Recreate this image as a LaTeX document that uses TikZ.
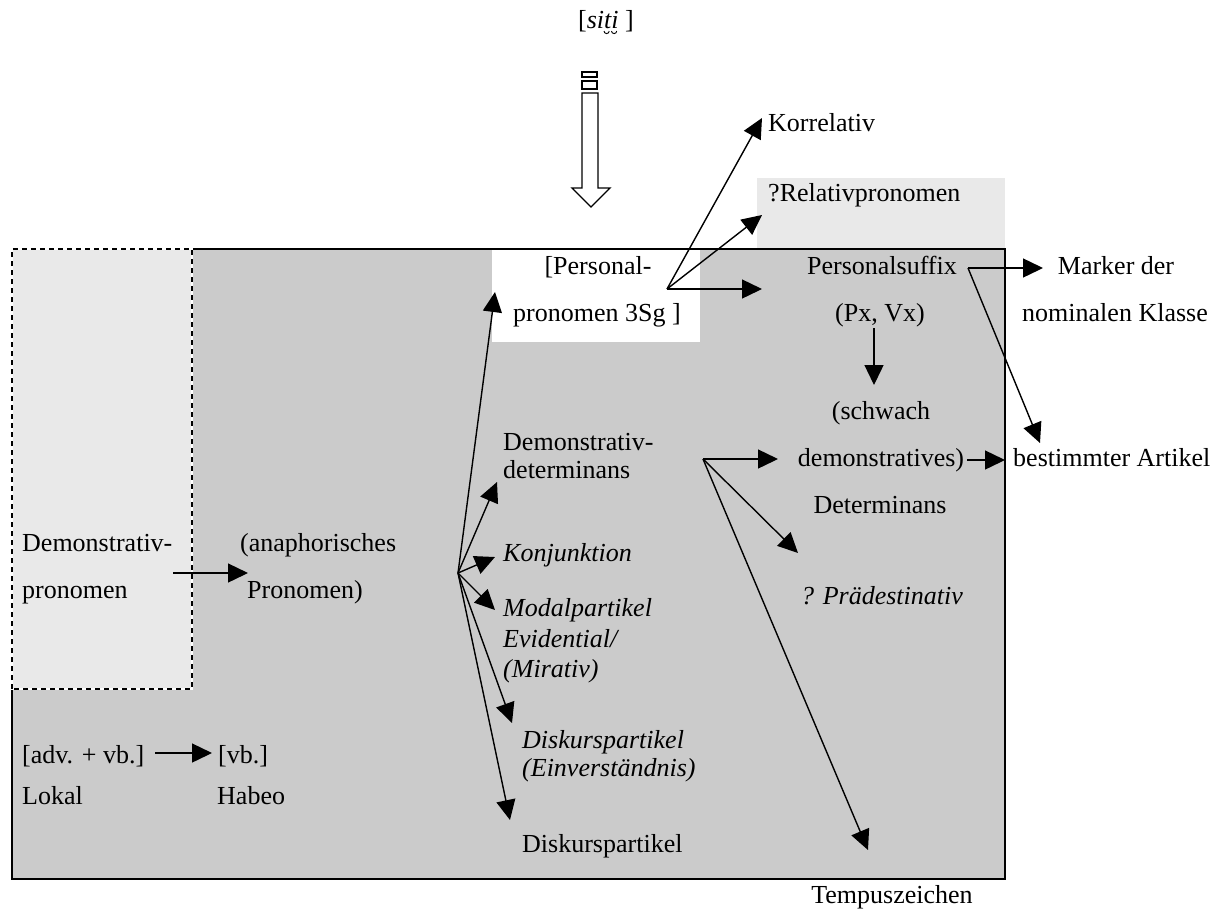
\documentclass[tikz,border=0pt]{standalone}
\usepackage{fontspec}
\setmainfont{Liberation Serif}
\usetikzlibrary{arrows.meta}
\definecolor{darkbg}{HTML}{CBCBCB}
\definecolor{lightbg}{HTML}{E9E9E9}
\begin{document}
\begin{tikzpicture}[x=1pt,y=-1pt,
  txt/.style={inner sep=0pt, font=\fontsize{26}{30}\selectfont, text height=17pt, text depth=5pt},
  itxt/.style={txt, font=\fontsize{26}{30}\selectfont\itshape},
  arr/.style={-{Triangle[length=20pt,width=19pt]}, line width=1.4pt},
  frame/.style={line width=1.8pt},
  dsh/.style={line width=1.5pt, dash pattern=on 5pt off 4pt}]
\useasboundingbox (0,0) rectangle (1228,911);
% backgrounds
\fill[darkbg] (12,249) rectangle (1005,879);
\fill[lightbg] (12,249) rectangle (192,689);
\fill[white] (492,249) rectangle (700,342);
\fill[lightbg] (757,178) rectangle (1005,249);
% frame
\draw[frame] (192,249) -- (1005,249) -- (1005,879) -- (12,879) -- (12,689);
\draw[white, line width=1.5pt] (12,689) -- (12,249) -- (192,249) -- (192,689) -- cycle;
\draw[dsh] (12,689) -- (12,249) -- (192,249) -- (192,689) -- cycle;
% hollow arrow
\draw[line width=1.3pt, fill=white] (582,93) -- (598,93) -- (598,188) -- (610,188) -- (591,207) -- (572,188) -- (582,188) -- cycle;
\draw[line width=1.3pt] (582,72) rectangle (597,77);
\draw[line width=1.3pt] (582,81) rectangle (597,89);
% texts
\node[txt, anchor=west] (siti) at (578,22) {[\textit{siti} ]};
\draw[line width=0.9pt] ([xshift=26pt,yshift=-3pt]siti.base west) arc[start angle=180, end angle=360, radius=2.6pt];
\draw[line width=0.9pt] ([xshift=33.5pt,yshift=-3pt]siti.base west) arc[start angle=180, end angle=360, radius=2.6pt];
\node[txt, anchor=west] (korr) at (768,125) {Korrelativ};
\node[txt, anchor=west] (rel) at (768,195) {?Relativpronomen};
\node[txt] (pers1) at (598,268) {[Personal-};
\node[txt] (pers2) at (597,315) {pronomen 3Sg ]};
\node[txt] (psuf1) at (882,268) {Personalsuffix};
\node[txt] (psuf2) at (880,315) {(Px, Vx)};
\node[txt] (schw1) at (881,413) {(schwach};
\node[txt] (schw2) at (881,460) {demonstratives)};
\node[txt] (schw3) at (880,507) {Determinans};
\node[itxt] (praed) at (882,598) {? Prädestinativ};
\node[txt] (mark1) at (1116,268) {Marker der};
\node[txt] (mark2) at (1115,315) {nominalen Klasse};
\node[txt, anchor=west] (best) at (1013,460) {bestimmter Artikel};
\node[txt, anchor=west] (ddet1) at (503,444) {Demonstrativ-};
\node[txt, anchor=west] (ddet2) at (503,472) {determinans};
\node[itxt, anchor=west] (konj) at (503,555) {Konjunktion};
\node[itxt, anchor=west] (mod1) at (503,610) {Modalpartikel};
\node[itxt, anchor=west] (mod2) at (503,641) {Evidential/};
\node[itxt, anchor=west] (mod3) at (503,671) {(Mirativ)};
\node[itxt, anchor=west] (disk1) at (522,742) {Diskurspartikel};
\node[itxt, anchor=west] (disk2) at (522,770) {(Einverständnis)};
\node[txt, anchor=west] (disk) at (522,846) {Diskurspartikel};
\node[txt] (tempus) at (892,897) {Tempuszeichen};
\node[txt, anchor=west] (dpr1) at (22,545) {Demonstrativ-};
\node[txt, anchor=west] (dpr2) at (22,592) {pronomen};
\node[txt, anchor=west] (ana1) at (240,545) {(anaphorisches};
\node[txt, anchor=west] (ana2) at (247,592) {Pronomen)};
\node[txt, anchor=west] (adv) at (22,757) {[adv. + vb.]};
\node[txt, anchor=west] (lokal) at (22,798) {Lokal};
\node[txt, anchor=west] (vb) at (218,757) {[vb.]};
\node[txt, anchor=west] (habeo) at (217,798) {Habeo};
% junctions and tips
\coordinate (jDem) at (173,573);
\coordinate (tAna) at (248,573);
\coordinate (jFan) at (458,573);
\coordinate (tPers) at (495,292);
\coordinate (tDdet) at (497,482);
\coordinate (tKonj) at (495,557);
\coordinate (tMod) at (495,610);
\coordinate (tDisk1) at (512,723);
\coordinate (tDisk) at (510,820);
\coordinate (jPers) at (667,289);
\coordinate (tKorr) at (762,118);
\coordinate (tRel) at (762,215);
\coordinate (tPsuf) at (762,289);
\coordinate (jPsuf) at (968,268);
\coordinate (tMark) at (1043,268);
\coordinate (tBest) at (1040,443);
\coordinate (jPx) at (874,328);
\coordinate (tSchw) at (874,385);
\coordinate (jDemo) at (967,460);
\coordinate (tBest2) at (1005,460);
\coordinate (jDdet) at (703,459);
\coordinate (tSchw2) at (778,459);
\coordinate (tPraed) at (798,553);
\coordinate (tTemp) at (868,850);
\coordinate (jAdv) at (155,753);
\coordinate (tVb) at (212,753);
% connectors
\draw[arr] (jDem) -- (tAna);
\foreach \t in {tPers,tDdet,tKonj,tMod,tDisk1,tDisk} \draw[arr] (jFan) -- (\t);
\foreach \t in {tKorr,tRel,tPsuf} \draw[arr] (jPers) -- (\t);
\draw[arr] (jPsuf) -- (tMark);
\draw[arr] (jPsuf) -- (tBest);
\draw[arr] (jPx) -- (tSchw);
\draw[arr] (jDemo) -- (tBest2);
\foreach \t in {tSchw2,tPraed,tTemp} \draw[arr] (jDdet) -- (\t);
\draw[arr] (jAdv) -- (tVb);
\end{tikzpicture}
\end{document}
